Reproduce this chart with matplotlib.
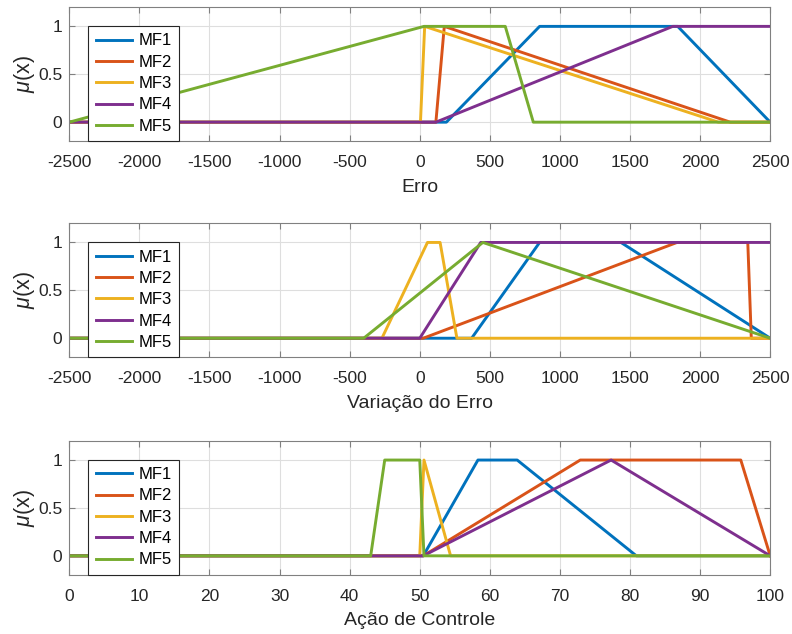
import matplotlib
matplotlib.use("Agg")
import matplotlib.pyplot as plt

plt.rcParams['font.family'] = ['Liberation Sans', 'DejaVu Sans']
plt.rcParams['mathtext.fontset'] = 'custom'
plt.rcParams['mathtext.it'] = 'Liberation Sans:italic'
plt.rcParams['mathtext.rm'] = 'Liberation Sans'
plt.rcParams['axes.unicode_minus'] = False

colors = ['#0072BD', '#D95319', '#EDB120', '#7E2F8E', '#77AC30']
names = ['MF1', 'MF2', 'MF3', 'MF4', 'MF5']

# Erro: vertices of each membership function
erro_x = [
    [-2500, 190, 855, 1840, 2500],
    [-2500, 115, 175, 2215, 2500],
    [-2500, 5, 35, 2130, 2500],
    [-2500, 115, 1805, 2500],
    [-2500, 30, 610, 810, 2500],
]
erro_y = [
    [0, 0, 1, 1, 0],
    [0, 0, 1, 0, 0],
    [0, 0, 1, 0, 0],
    [0, 0, 1, 1],
    [0, 1, 1, 0, 0],
]

# Variacao do erro
var_x = [
    [-2500, 370, 855, 1435, 2500],
    [-2500, 25, 1835, 2340, 2365, 2500],
    [-2500, -270, 55, 145, 265, 2500],
    [-2500, 0, 435, 2500],
    [-2500, -400, 450, 2500],
]
var_y = [
    [0, 0, 1, 1, 0],
    [0, 0, 1, 1, 0, 0],
    [0, 0, 1, 1, 0, 0],
    [0, 0, 1, 1],
    [0, 0, 1, 0],
]

# Acao de controle
acao_x = [
    [0, 50.5, 58.3, 63.9, 80.9, 100],
    [0, 50.5, 72.9, 95.8, 100],
    [0, 50, 50.6, 54.4, 100],
    [0, 50.5, 77.3, 100],
    [0, 43, 45, 50, 50.6, 100],
]
acao_y = [
    [0, 0, 1, 1, 0, 0],
    [0, 0, 1, 1, 0],
    [0, 0, 1, 0, 0],
    [0, 0, 1, 0],
    [0, 0, 1, 1, 0, 0],
]

panels = [
    (erro_x, erro_y, 'Erro', (-2500, 2500), range(-2500, 2501, 500), 0.7771),
    (var_x, var_y, 'Variação do Erro', (-2500, 2500), range(-2500, 2501, 500), 0.4363),
    (acao_x, acao_y, 'Ação de Controle', (0, 100), range(0, 101, 10), 0.0931),
]

fig = plt.figure(figsize=(7.92, 6.34), dpi=100)

for xs, ys, label, xlim, xticks, bottom in panels:
    ax = fig.add_axes([0.0875, bottom, 0.885, 0.2115])
    for x, y, c, n in zip(xs, ys, colors, names):
        ax.plot(x, y, color=c, lw=2.1, label=n, solid_joinstyle='round')
    ax.set_xlim(*xlim)
    ax.set_ylim(-0.2, 1.2)
    ax.set_xticks(list(xticks))
    ax.set_yticks([0, 0.5, 1])
    ax.set_yticklabels(['0', '0.5', '1'])
    ax.grid(True, color='#dedede', lw=0.8)
    ax.set_axisbelow(True)
    for s in ax.spines.values():
        s.set_color('#808080')
        s.set_linewidth(0.8)
    ax.tick_params(direction='in', top=True, right=True, length=4,
                   color='#808080', labelsize=12.5, labelcolor='#262626')
    ax.tick_params(axis='x', pad=10)
    ax.tick_params(axis='y', pad=5)
    ax.set_xlabel(label, fontsize=14, color='#262626', labelpad=6)
    ax.set_ylabel(r'$\mu$(x)', fontsize=15.5, color='#262626', labelpad=1)
    leg = ax.legend(loc='lower left', bbox_to_anchor=(0.027, 0.0),
                    borderaxespad=0, fontsize=12, handlelength=2.2,
                    handletextpad=0.35, labelspacing=0.38, borderpad=0.45,
                    fancybox=False, framealpha=1, edgecolor='#262626')
    leg.get_frame().set_linewidth(0.8)

fig.savefig('out.png', dpi=100)
